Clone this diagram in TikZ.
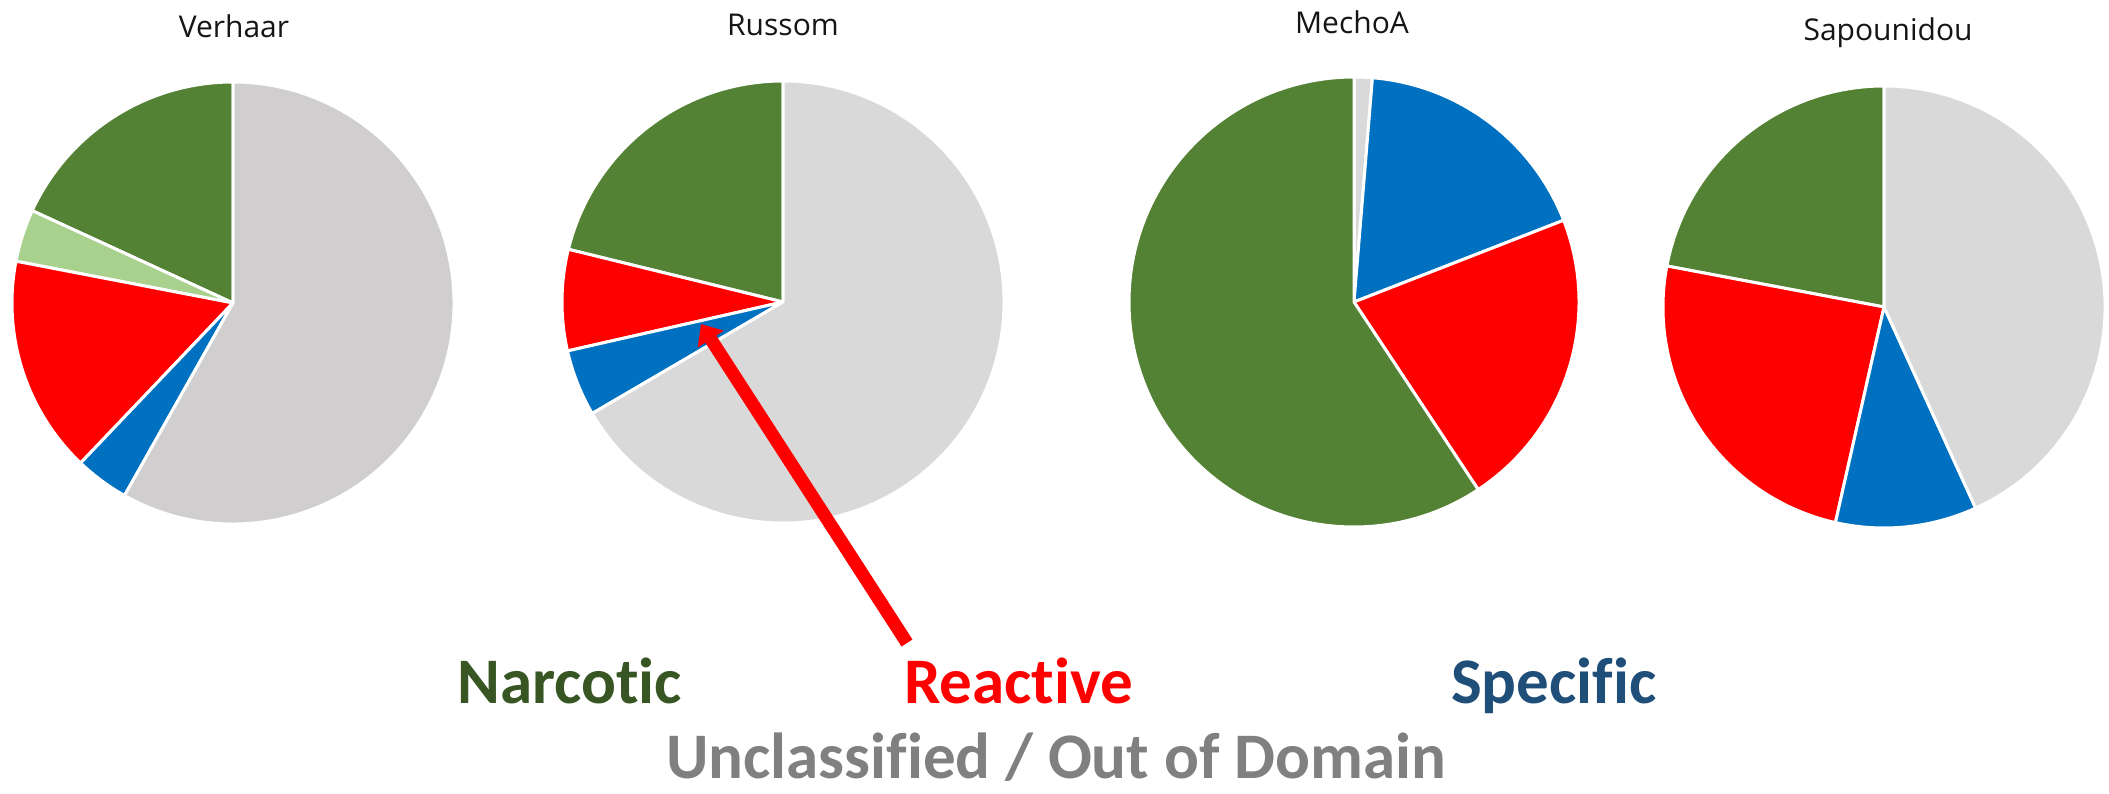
\documentclass[tikz,border=0pt]{standalone}
\usepackage{fontspec}
\setmainfont{Open Sans}
\newfontfamily\labfont[RawFeature={-liga;-dlig;-clig}]{Carlito}
\usetikzlibrary{arrows.meta}
\definecolor{ngreen}{HTML}{548235}
\definecolor{lgreen}{HTML}{A9D18E}
\definecolor{rred}{HTML}{FF0000}
\definecolor{sblue}{HTML}{0070C0}
\definecolor{ugray}{HTML}{D9D9D9}
\definecolor{vgray}{HTML}{D0CECE}
\definecolor{txgreen}{HTML}{375623}
\definecolor{txblue}{HTML}{1F4E79}
\definecolor{txgray}{HTML}{808080}
\definecolor{ttl}{HTML}{151515}
\tikzset{
  slice/.style={draw=white, line width=3pt, line join=round},
  pietitle/.style={font=\fontsize{30}{36}\selectfont, text=ttl, anchor=base, inner sep=0pt},
  legendlab/.style={font=\labfont\bfseries\fontsize{65}{78}\selectfont, anchor=base west, inner sep=0pt},
}
\newcommand{\pieslice}[5]{%
  \filldraw[slice, fill=#5] (#1) -- ++(#3:#2) arc[start angle=#3, end angle=#4, radius=#2] -- cycle;}
\begin{document}
\begin{tikzpicture}[x=1pt,y=1pt]
\useasboundingbox (0,0) rectangle (2109,794);
% centres
\coordinate (cV) at (233,491);
\coordinate (cR) at (783,492);
\coordinate (cM) at (1354,492);
\coordinate (cS) at (1884,487);
% Verhaar
\pieslice{cV}{221}{90}{155.3}{ngreen}
\pieslice{cV}{221}{155.3}{169.1}{lgreen}
\pieslice{cV}{221}{169.1}{226.4}{rred}
\pieslice{cV}{221}{226.4}{240.6}{sblue}
\pieslice{cV}{221}{240.6}{450}{vgray}
% Russom
\pieslice{cR}{221}{90}{166.2}{ngreen}
\pieslice{cR}{221}{166.2}{192.8}{rred}
\pieslice{cR}{221}{192.8}{210.3}{sblue}
\pieslice{cR}{221}{210.3}{450}{ugray}
% MechoA
\pieslice{cM}{225}{85.3}{90}{ugray}
\pieslice{cM}{225}{21.3}{85.3}{sblue}
\pieslice{cM}{225}{-56.5}{21.3}{rred}
\pieslice{cM}{225}{90}{303.5}{ngreen}
% Sapounidou
\pieslice{cS}{221}{90}{169.3}{ngreen}
\pieslice{cS}{221}{169.3}{257.3}{rred}
\pieslice{cS}{221}{257.3}{294.5}{sblue}
\pieslice{cS}{221}{294.5}{450}{ugray}
% titles
\node[pietitle] (tV) at (234,756) {Verhaar};
\node[pietitle] (tR) at (783,758) {Russom};
\node[pietitle] (tM) at (1352,760) {MechoA};
\node[pietitle] (tS) at (1888,753) {Sapounidou};
% arrow
\coordinate (atail) at (907,151);
\coordinate (atip) at (701,470);
\draw[rred, line width=13pt, -{Triangle[length=18pt,width=30pt]}] (atail) -- (atip);
% legend
\node[legendlab, text=txgreen] (narc) at (457,90) {Narcotic};
\node[legendlab, text=rred] (reac) at (904,90) {Reactive};
\node[legendlab, text=txblue] (spec) at (1451,90) {Specific};
\node[legendlab, text=txgray, anchor=base] (uncl) at (1056,15) {Unclassified / Out of Domain};
\end{tikzpicture}
\end{document}
